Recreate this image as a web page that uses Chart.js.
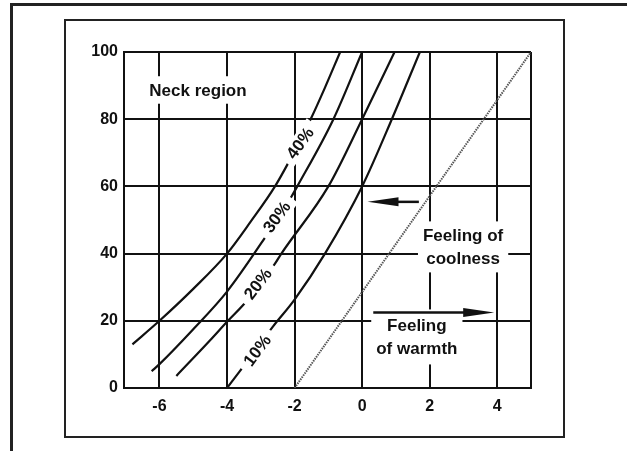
<!DOCTYPE html>
<html>
<head>
<meta charset="utf-8">
<script src="https://cdn.jsdelivr.net/npm/chart.js@4.4.1/dist/chart.umd.min.js"></script>
<style>
  html, body { margin: 0; padding: 0; background: #fff; }
  #wrap { position: relative; width: 627px; height: 451px; overflow: hidden; }
  #outer { position: absolute; left: 10px; top: 3px; width: 640px; height: 470px; border-top: 3px solid #222; border-left: 3px solid #222; }
  #inner { position: absolute; left: 64px; top: 19px; width: 497px; height: 415px; border: 2px solid #222; }
  canvas { position: absolute; left: 0; top: 0; }
</style>
</head>
<body>
<div id="wrap">
  <div id="outer"></div>
  <div id="inner"></div>
  <canvas id="chart" width="627" height="451"></canvas>
</div>
<script>
const xTicks = [-6, -4, -2, 0, 2, 4];
const xTickLabels = ['-6', '-4', '-2', '0', '2', '4'];
const yTicks = [0, 20, 40, 60, 80, 100];
const yTickLabels = ['0', '20', '40', '60', '80', '100'];
const xMin = -7.05, xMax = 5;

// humidity curves
const curve40X = [-6.8, -6, -5, -4, -3.3, -2.58, -2.0, -1.5, -1.1, -0.65];
const curve40Y = [13, 20, 29.5, 40, 49.5, 60, 70.5, 80.5, 89.4, 100];
const curve30X = [-6.23, -6, -5, -4, -2.88, -2.09, -1.92, -0.85, 0];
const curve30Y = [5, 7.1, 17.5, 28.7, 44.7, 57, 60, 80, 100];
const curve20X = [-5.5, -4.5, -4, -3.45, -2.58, -2.39, -1.0, 0, 0.96];
const curve20Y = [3.6, 14.2, 19.7, 25.5, 37, 40, 60, 80, 100];
const curve10X = [-4, -3.62, -2.63, -2, -1.1, 0, 0.88, 1.71];
const curve10Y = [0, 5, 18.4, 26.3, 40, 60, 80, 100];
const neutralX = [-2, 5];
const neutralY = [0, 100];

const curveLabels = ['40%', '30%', '20%', '10%'];

// arrows (data units)
const coolArrowX = [1.68, 0.16];
const coolArrowY = [55.4, 55.4];
const warmArrowX = [0.33, 3.91];
const warmArrowY = [22.5, 22.5];

const FONT = '"Liberation Sans", Arial, Helvetica, sans-serif';

const labelPlacement = [
  { x: -1.84, y: 72.9, angle: 54 },
  { x: -2.53, y: 50.9, angle: 54 },
  { x: -3.09, y: 31.0, angle: 53 },
  { x: -3.11, y: 11.2, angle: 53 }
];

const textBlocks = [
  { lines: ['Neck region'], x: -4.86, y: 88.7, padX: 4, padY: 2 },
  { lines: ['Feeling of', 'coolness'], x: 2.99, y: 42.0, padX: 5, padY: 2 },
  { lines: ['Feeling', 'of warmth'], x: 1.62, y: 15.2, padX: 5, padY: 4 }
];

function pts(xs, ys) {
  return xs.map((v, i) => ({ x: v, y: ys[i] }));
}

function curve(xs, ys) {
  return {
    data: pts(xs, ys),
    showLine: true,
    borderColor: '#111',
    borderWidth: 2.2,
    pointRadius: 0,
    cubicInterpolationMode: 'monotone'
  };
}

function drawArrow(ctx, x0, y0, x1, y1) {
  const dir = Math.sign(x1 - x0);
  ctx.strokeStyle = '#111';
  ctx.lineWidth = 2.5;
  ctx.beginPath();
  ctx.moveTo(x0, y0);
  ctx.lineTo(x1 - dir * 20, y1);
  ctx.stroke();
  ctx.fillStyle = '#111';
  ctx.beginPath();
  ctx.moveTo(x1, y1);
  ctx.lineTo(x1 - dir * 31, y1 - 4.5);
  ctx.lineTo(x1 - dir * 31, y1 + 4.5);
  ctx.closePath();
  ctx.fill();
}

const notesPlugin = {
  id: 'notes',
  afterDatasetsDraw(chart) {
    const { ctx, scales: { x, y } } = chart;
    ctx.save();
    ctx.font = 'bold 17px ' + FONT;
    ctx.textAlign = 'center';
    ctx.textBaseline = 'middle';

    curveLabels.forEach((txt, i) => {
      const p = labelPlacement[i];
      const w = ctx.measureText(txt).width + 14;
      ctx.save();
      ctx.translate(x.getPixelForValue(p.x), y.getPixelForValue(p.y));
      ctx.rotate(-p.angle * Math.PI / 180);
      ctx.fillStyle = '#fff';
      ctx.fillRect(-w / 2, -9, w, 18);
      ctx.fillStyle = '#111';
      ctx.fillText(txt, 0, 1);
      ctx.restore();
    });

    const lh = 23.5;
    textBlocks.forEach(b => {
      const cx = x.getPixelForValue(b.x), cy = y.getPixelForValue(b.y);
      const w = Math.max(...b.lines.map(l => ctx.measureText(l).width)) + 2 * b.padX;
      const h = b.lines.length * lh + 2 * b.padY;
      ctx.fillStyle = '#fff';
      ctx.fillRect(cx - w / 2, cy - h / 2, w, h);
      ctx.fillStyle = '#111';
      b.lines.forEach((l, i) => {
        ctx.fillText(l, cx, cy - h / 2 + b.padY + lh * (i + 0.5) + 1);
      });
    });

    drawArrow(ctx, x.getPixelForValue(coolArrowX[0]), y.getPixelForValue(coolArrowY[0]),
      x.getPixelForValue(coolArrowX[1]), y.getPixelForValue(coolArrowY[1]));
    drawArrow(ctx, x.getPixelForValue(warmArrowX[0]), y.getPixelForValue(warmArrowY[0]),
      x.getPixelForValue(warmArrowX[1]), y.getPixelForValue(warmArrowY[1]));
    ctx.restore();
  }
};

new Chart(document.getElementById('chart'), {
  type: 'scatter',
  data: {
    datasets: [
      {
        data: pts(neutralX, neutralY),
        showLine: true,
        borderColor: '#555',
        borderWidth: 2,
        borderDash: [1.5, 1],
        pointRadius: 0
      },
      curve(curve40X, curve40Y),
      curve(curve30X, curve30Y),
      curve(curve20X, curve20Y),
      curve(curve10X, curve10Y)
    ]
  },
  options: {
    responsive: false,
    animation: false,
    layout: { padding: { left: 0, top: 52, right: 96, bottom: 23 } },
    plugins: { legend: { display: false }, tooltip: { enabled: false } },
    scales: {
      x: {
        type: 'linear',
        min: xMin,
        max: xMax,
        afterBuildTicks: axis => { axis.ticks = xTicks.concat([xMax]).map(v => ({ value: v })); },
        afterFit: axis => { axis.height = 40; },
        ticks: {
          padding: 9,
          color: '#111',
          font: { family: FONT, size: 16, weight: 'bold' },
          maxRotation: 0,
          callback: v => { const i = xTicks.indexOf(v); return i >= 0 ? xTickLabels[i] : ''; }
        },
        grid: { color: '#111', lineWidth: 2, drawTicks: false },
        border: { color: '#111', width: 2 }
      },
      y: {
        type: 'linear',
        min: 0,
        max: 100,
        afterBuildTicks: axis => { axis.ticks = yTicks.map(v => ({ value: v })); },
        afterFit: axis => { axis.width = 124; },
        ticks: {
          padding: 6,
          color: '#111',
          font: { family: FONT, size: 16, weight: 'bold' },
          callback: v => { const i = yTicks.indexOf(v); return i >= 0 ? yTickLabels[i] : ''; }
        },
        grid: { color: '#111', lineWidth: 2, drawTicks: false },
        border: { color: '#111', width: 2 }
      }
    }
  },
  plugins: [notesPlugin]
});
</script>
</body>
</html>
